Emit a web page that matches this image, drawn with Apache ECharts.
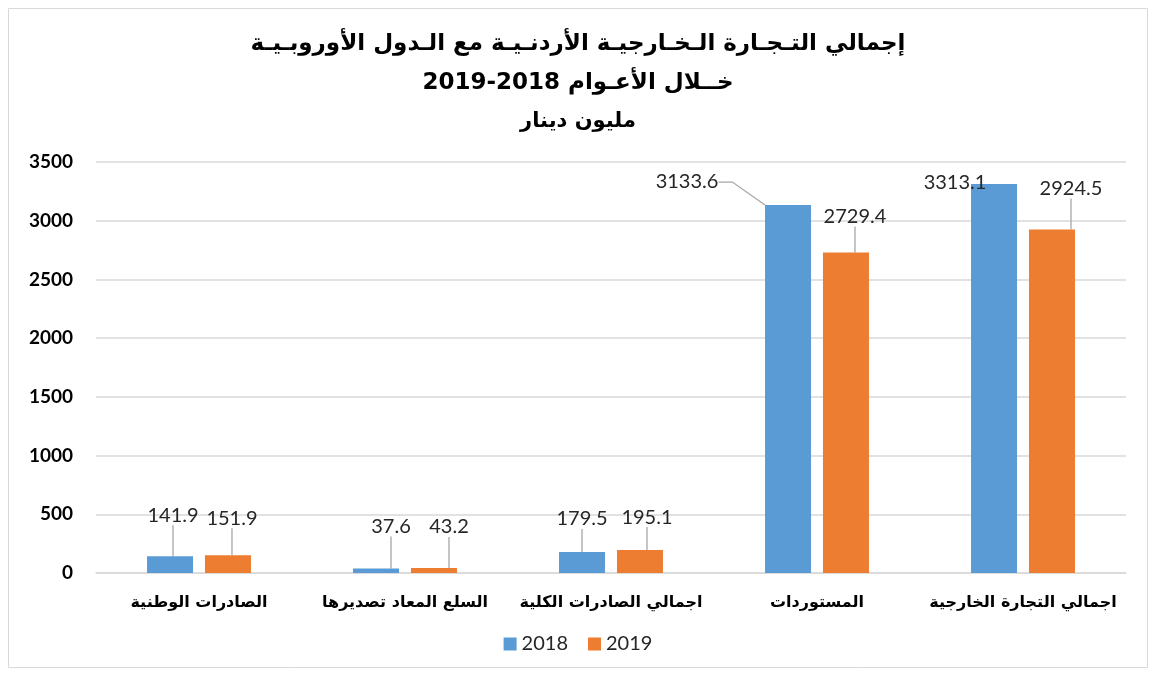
<!DOCTYPE html>
<html>
<head>
<meta charset="utf-8">
<script src="https://cdn.jsdelivr.net/npm/echarts@6/dist/echarts.min.js"></script>
<style>
  html, body { margin: 0; padding: 0; background: #fff; }
  #main { width: 1156px; height: 675px; }
</style>
</head>
<body>
<div id="main"></div>
<script>
var categories = ['الصادرات الوطنية', 'السلع المعاد تصديرها', 'اجمالي الصادرات الكلية', 'المستوردات', 'اجمالي التجارة الخارجية'];
var years = ['2018', '2019'];
var values2018 = [141.9, 37.6, 179.5, 3133.6, 3313.1];
var values2019 = [151.9, 43.2, 195.1, 2729.4, 2924.5];
var yTicks = [0, 500, 1000, 1500, 2000, 2500, 3000, 3500];

// how far each value label is pulled from its bar (dx, dy)
var labelShift = [
  [[3, -26], [15, -27], [0, -18], [-101, -8], [-39, 14]],
  [[4, -22], [15, -26], [7, -18], [9, -21], [19, -26]]
];

var arabicFont = '"DejaVu Sans", sans-serif';
var numFont = 'Lato, "Liberation Sans", sans-serif';

var chart = echarts.init(document.getElementById('main'));

function makeSeries(name, vals, idx, color) {
  return {
    name: name,
    type: 'bar',
    barWidth: 46,
    barGap: '26%',
    itemStyle: { color: color },
    label: {
      show: true,
      position: 'top',
      distance: 5,
      color: '#262626',
      fontFamily: numFont,
      fontSize: 20
    },
    labelLine: {
      show: true,
      length2: 14,
      lineStyle: { color: '#a6a6a6', width: 1.3 }
    },
    labelLayout: function (p) {
      var s = labelShift[idx][p.dataIndex];
      return { dx: s[0], dy: s[1] };
    },
    data: vals.map(function (v, i) {
      // the 3313.1 label sits on the bar itself, no leader line
      if (idx === 0 && i === 4) return { value: v, labelLine: { show: false } };
      return v;
    })
  };
}

var titleStyle = { fontFamily: arabicFont, fontWeight: 'bold', fontSize: 23, color: '#000' };

var option = {
  animation: false,
  textStyle: { fontFamily: arabicFont },
  title: [
    {
      text: 'إجمالي التـجـارة الـخـارجيـة الأردنـيـة مع الـدول الأوروبـيـة',
      left: 'center', top: 28,
      textStyle: titleStyle
    },
    {
      text: '2019-2018 خــلال الأعـوام',
      left: 'center', top: 67,
      textStyle: titleStyle
    },
    {
      text: 'مليون دينار',
      left: 'center', top: 106,
      textStyle: { fontFamily: arabicFont, fontWeight: 'bold', fontSize: 21, color: '#000' }
    }
  ],
  legend: {
    data: years,
    left: 'center',
    top: 629,
    itemWidth: 13,
    itemHeight: 13,
    itemGap: 20,
    icon: 'rect',
    textStyle: { fontFamily: numFont, fontSize: 20, color: '#262626' }
  },
  grid: { left: 96, right: 30, top: 162, bottom: 102 },
  xAxis: {
    type: 'category',
    data: categories,
    axisTick: { show: false },
    axisLine: { lineStyle: { color: '#d9d9d9', width: 1.5 } },
    axisLabel: {
      interval: 0,
      margin: 22,
      color: '#000',
      fontFamily: arabicFont,
      fontWeight: 'bold',
      fontSize: 16
    }
  },
  yAxis: {
    type: 'value',
    min: yTicks[0],
    max: yTicks[yTicks.length - 1],
    interval: 500,
    axisLine: { show: false },
    axisTick: { show: false },
    splitLine: { lineStyle: { color: '#d9d9d9', width: 1.5 } },
    axisLabel: {
      margin: 23,
      color: '#000',
      fontFamily: numFont,
      fontWeight: 'bold',
      fontSize: 19,
      formatter: function (v) { return String(v); }
    }
  },
  series: [
    makeSeries(years[0], values2018, 0, '#5b9bd5'),
    makeSeries(years[1], values2019, 1, '#ed7d31')
  ],
  graphic: [{
    type: 'rect',
    silent: true,
    shape: { x: 8.5, y: 8.5, width: 1139, height: 659 },
    style: { fill: 'none', stroke: '#d9d9d9', lineWidth: 1 }
  }]
};

chart.setOption(option);
</script>
</body>
</html>
